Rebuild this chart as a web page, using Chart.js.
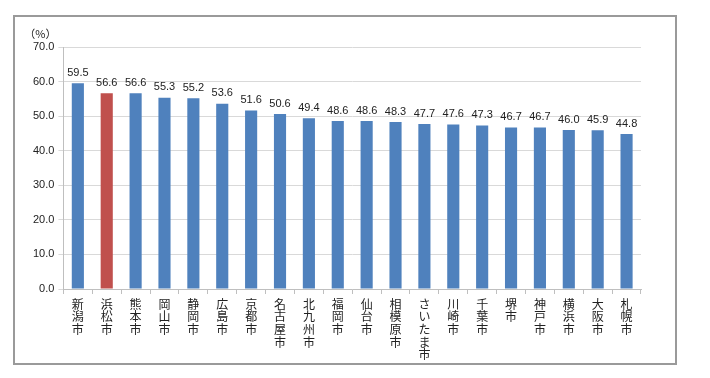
<!DOCTYPE html>
<html>
<head>
<meta charset="utf-8">
<script src="https://cdn.jsdelivr.net/npm/chart.js@4/dist/chart.umd.min.js"></script>
<style>
  body { margin: 0; background: #fff; }
  #wrap { position: relative; width: 710px; height: 378px; }
  #frame { position: absolute; left: 13px; top: 15px; width: 660px; height: 346px;
           border: 2px solid #9a9a9a; pointer-events: none; }
</style>
</head>
<body>
<div id="wrap">
  <canvas id="chart" width="710" height="378"></canvas>
  <div id="frame"></div>
</div>
<script>
const cities = ['新潟市', '浜松市', '熊本市', '岡山市', '静岡市', '広島市', '京都市', '名古屋市', '北九州市', '福岡市',
  '仙台市', '相模原市', 'さいたま市', '川崎市', '千葉市', '堺市', '神戸市', '横浜市', '大阪市', '札幌市'];
const rates = [59.5, 56.6, 56.6, 55.3, 55.2, 53.6, 51.6, 50.6, 49.4, 48.6,
  48.6, 48.3, 47.7, 47.6, 47.3, 46.7, 46.7, 46.0, 45.9, 44.8];
const highlight = '浜松市';
const unitLabel = '（%）';

const blue = '#4F81BD';
const red = '#C0504D';
const numFont = '"Liberation Sans", "Noto Sans", sans-serif';
const jpFont = '"Noto Sans CJK JP", sans-serif';

// value labels above each bar + the (%) unit
const labelsPlugin = {
  id: 'valueLabels',
  afterDatasetsDraw(chart) {
    const ctx = chart.ctx;
    const meta = chart.getDatasetMeta(0);
    ctx.save();
    ctx.fillStyle = '#222';
    ctx.font = '11px ' + numFont;
    ctx.textAlign = 'center';
    ctx.textBaseline = 'bottom';
    meta.data.forEach((bar, i) => {
      ctx.fillText(rates[i].toFixed(1), bar.x, bar.y - 5);
    });
    ctx.font = '11px ' + jpFont;
    ctx.textAlign = 'center';
    ctx.textBaseline = 'middle';
    ctx.fillText(unitLabel, chart.chartArea.left - 23, chart.chartArea.top - 13);
    ctx.restore();
  }
};

new Chart(document.getElementById('chart'), {
  type: 'bar',
  data: {
    labels: cities.map(c => c.split('')),
    datasets: [{
      data: rates,
      backgroundColor: cities.map(c => c === highlight ? red : blue),
      barPercentage: 0.42,
      categoryPercentage: 1.0
    }]
  },
  options: {
    responsive: false,
    animation: false,
    layout: { padding: { left: 29, right: 69, top: 47, bottom: 13 } },
    plugins: { legend: { display: false }, tooltip: { enabled: false } },
    scales: {
      x: {
        grid: { display: true, drawOnChartArea: false, drawTicks: true, tickLength: 5, color: '#bfbfbf', offset: true },
        border: { color: '#bfbfbf' },
        ticks: {
          color: '#222',
          maxRotation: 0,
          autoSkip: false,
          padding: 4,
          font: { family: jpFont, size: 12, lineHeight: 1.05 }
        }
      },
      y: {
        min: 0,
        max: 70,
        grid: { color: '#d9d9d9', tickLength: 5 },
        border: { color: '#bfbfbf' },
        ticks: {
          stepSize: 10,
          color: '#222',
          padding: 4,
          font: { family: numFont, size: 11 },
          callback: v => v.toFixed(1)
        }
      }
    }
  },
  plugins: [labelsPlugin]
});
</script>
</body>
</html>
